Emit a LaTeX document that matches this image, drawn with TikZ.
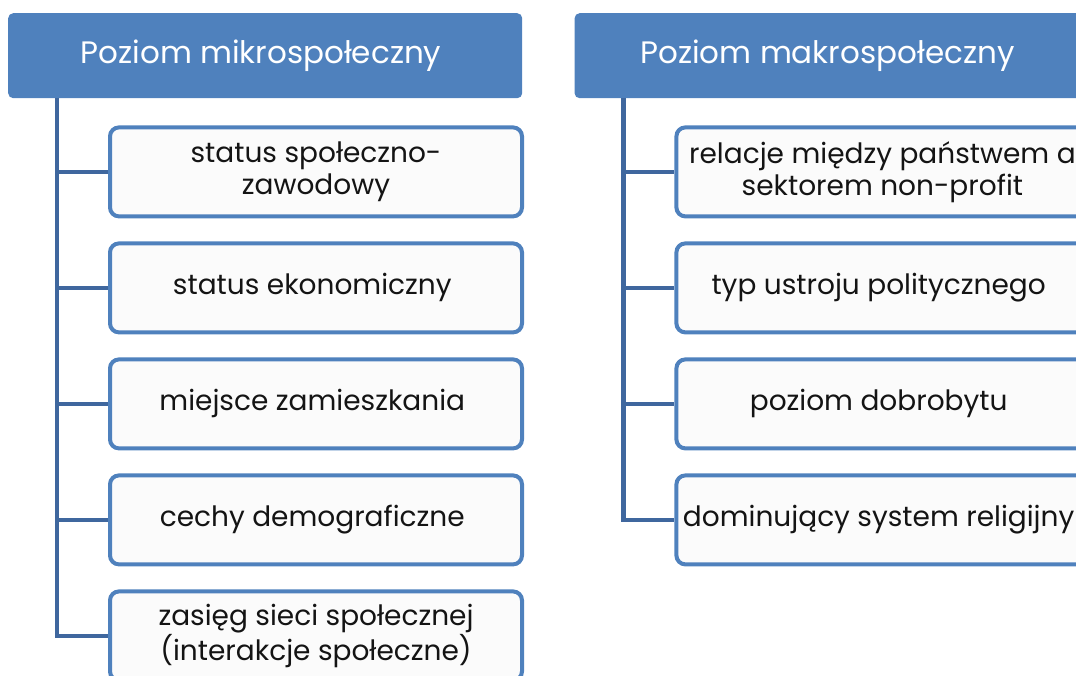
\documentclass[tikz,border=0pt]{standalone}
\usepackage{fontspec}
\setmainfont{Poppins}
\usetikzlibrary{
  positioning,
  calc}
\definecolor{headcolor}{RGB}{79,129,189}
\definecolor{boxcolor}{RGB}{79,129,189}
\definecolor{boxfillcolor}{RGB}{251,251,251}
\definecolor{treecolor}{RGB}{63,103,158}
\definecolor{textcolor}{RGB}{20,20,20}
\tikzset{
  %% level : the heading box of one column
  level/.style={
    rectangle,
    rounded corners=5pt,
    fill=headcolor,
    text=white,
    minimum width=514pt,
    minimum height=85pt,
    font=\fontsize{31}{36}\selectfont,
    align=center
  },
  %% factor : one factor below a heading
  factor/.style={
    rectangle,
    rounded corners=9pt,
    draw=boxcolor,
    line width=4pt,
    fill=boxfillcolor,
    text=textcolor,
    minimum width=412pt,
    minimum height=89pt,
    inner sep=0pt,
    font=\fontsize{28}{32}\selectfont,
    align=center
  },
  %% tree_line : trunk and branches
  tree_line/.style={treecolor, line width=4.5pt}
}

\begin{document}
\begin{tikzpicture}
  [x=1pt,
  y=-1pt,
  align=center]

  %% Page frame, the diagram is cut at the right and bottom
  \useasboundingbox (0, 0) rectangle (1076, 675);
  \clip (0, 0) rectangle (1076, 675);

  %% Headings
  \node (hmikro) [level, anchor=north west] at (8, 13){%
    Poziom mikrospołeczny
  };

  \node (hmakro) [right=52pt of hmikro, level]{%
    Poziom makrospołeczny
  };

  %% Left column
  \node (m1) [below right=27pt and 100pt of hmikro.south west, factor]{%
    status społeczno-\\zawodowy
  };

  \node (m2) [below=23pt of m1, factor]{%
    status ekonomiczny
  };

  \node (m3) [below=23pt of m2, factor]{%
    miejsce zamieszkania
  };

  \node (m4) [below=23pt of m3, factor]{%
    cechy demograficzne
  };

  \node (m5) [below=23pt of m4, factor]{%
    zasięg sieci społecznej\\(interakcje społeczne)
  };

  %% Right column
  \node (k1) [below right=27pt and 100pt of hmakro.south west, factor]{%
    relacje między państwem a\\sektorem non-profit
  };

  \node (k2) [below=23pt of k1, factor]{%
    typ ustroju politycznego
  };

  \node (k3) [below=23pt of k2, factor]{%
    poziom dobrobytu
  };

  \node (k4) [below=23pt of k3, factor]{%
    dominujący system religijny
  };

  %% Connections
  \coordinate (mtrunk) at ($(hmikro.south west) + (49, 0)$);
  \coordinate (ktrunk) at ($(hmakro.south west) + (49, 0)$);

  \draw [tree_line] (mtrunk) |- (m5.west);
  \foreach \i in {1,...,4}
    \draw [tree_line] (mtrunk |- m\i.west) -- (m\i.west);

  \draw [tree_line] (ktrunk) |- (k4.west);
  \foreach \i in {1,...,3}
    \draw [tree_line] (ktrunk |- k\i.west) -- (k\i.west);

\end{tikzpicture}
\end{document}
